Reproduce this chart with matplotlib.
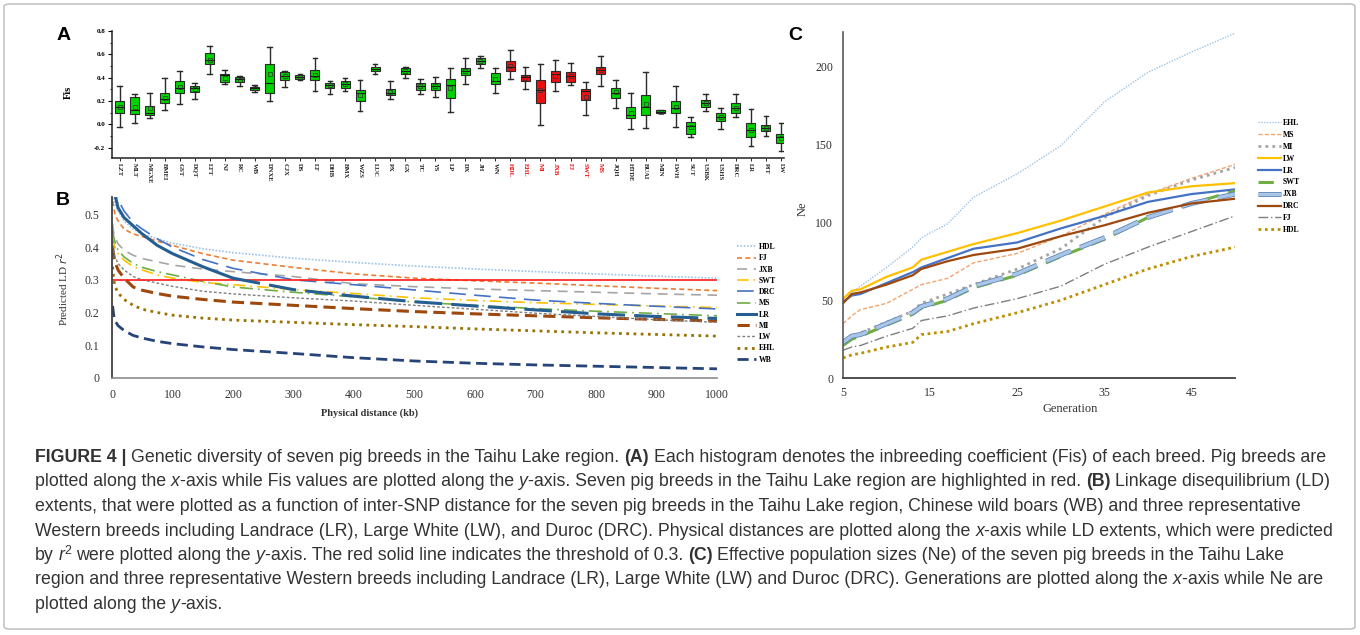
import matplotlib
matplotlib.use("Agg")
import matplotlib.pyplot as plt
import matplotlib.patheffects as pe
from matplotlib import font_manager
from matplotlib.patches import FancyBboxPatch
from matplotlib.ticker import MultipleLocator, FormatStrFormatter
import numpy as np

# ---- panel A: inbreeding coefficient (Fis) per breed ----
BREEDS = ["LZT", "MLT", "MGXE", "BMEI", "GST", "DQT", "LTT", "NJ", "RC", "WB",
          "DNXE", "CJX", "DS", "LT", "DHB", "BMX", "WZS", "LUC", "PX", "GX",
          "TC", "YS", "LP", "DX", "JH", "WN", "HDL", "EHL", "MI", "JXB",
          "FJ", "SWT", "MS", "JQH", "HTDE", "BUAI", "MIN", "LWH", "SUT", "USBK",
          "USHS", "DRC", "LR", "PIT", "LW"]
TAIHU = ["HDL", "EHL", "MI", "JXB", "FJ", "SWT", "MS"]
FIS_WHISLO = [-0.02, 0.011, 0.057, 0.118, 0.172, 0.218, 0.434, 0.348, 0.328, 0.276,
              0.198, 0.322, 0.379, 0.287, 0.258, 0.284, 0.112, 0.430, 0.215, 0.399,
              0.258, 0.235, 0.106, 0.341, 0.479, 0.270, 0.390, 0.301, -0.003, 0.284,
              0.336, 0.080, 0.330, 0.138, -0.040, -0.032, 0.092, -0.023, -0.112, 0.112,
              -0.037, 0.063, -0.186, -0.100, -0.232]
FIS_Q1 = [0.100, 0.089, 0.078, 0.178, 0.270, 0.279, 0.514, 0.365, 0.360, 0.293,
          0.270, 0.380, 0.388, 0.380, 0.307, 0.313, 0.200, 0.453, 0.250, 0.430,
          0.292, 0.292, 0.227, 0.421, 0.516, 0.344, 0.456, 0.373, 0.186, 0.364,
          0.358, 0.204, 0.427, 0.229, 0.054, 0.080, 0.097, 0.100, -0.080, 0.149,
          0.029, 0.100, -0.112, -0.060, -0.158]
FIS_MED = [0.144, 0.118, 0.100, 0.215, 0.310, 0.307, 0.555, 0.420, 0.385, 0.307,
           0.350, 0.417, 0.408, 0.417, 0.336, 0.347, 0.270, 0.476, 0.272, 0.459,
           0.330, 0.330, 0.336, 0.456, 0.539, 0.370, 0.493, 0.401, 0.292, 0.430,
           0.416, 0.281, 0.465, 0.264, 0.083, 0.152, 0.109, 0.143, -0.014, 0.181,
           0.060, 0.143, -0.052, -0.029, -0.109]
FIS_Q3 = [0.195, 0.230, 0.158, 0.270, 0.370, 0.328, 0.615, 0.434, 0.402, 0.319,
          0.517, 0.445, 0.422, 0.468, 0.356, 0.367, 0.292, 0.490, 0.298, 0.479,
          0.353, 0.356, 0.384, 0.479, 0.565, 0.436, 0.539, 0.421, 0.376, 0.456,
          0.447, 0.304, 0.493, 0.310, 0.152, 0.247, 0.118, 0.198, 0.023, 0.206,
          0.092, 0.181, 0.011, -0.003, -0.080]
FIS_WHISHI = [0.325, 0.256, 0.267, 0.394, 0.454, 0.356, 0.675, 0.468, 0.414, 0.336,
              0.661, 0.460, 0.428, 0.566, 0.373, 0.396, 0.378, 0.513, 0.373, 0.493,
              0.384, 0.407, 0.485, 0.571, 0.585, 0.479, 0.637, 0.487, 0.513, 0.548,
              0.528, 0.358, 0.582, 0.381, 0.270, 0.447, 0.126, 0.324, 0.063, 0.258,
              0.135, 0.261, 0.129, 0.072, 0.014]
FIS_MEAN = [0.145, 0.148, 0.135, 0.225, 0.320, 0.300, 0.555, 0.400, 0.380, 0.307,
            0.430, 0.415, 0.408, 0.425, 0.333, 0.345, 0.250, 0.474, 0.280, 0.455,
            0.325, 0.325, 0.310, 0.455, 0.540, 0.385, 0.500, 0.400, 0.290, 0.415,
            0.410, 0.235, 0.465, 0.275, 0.100, 0.170, 0.108, 0.145, -0.020, 0.180,
            0.060, 0.140, -0.050, -0.030, -0.115]

# ---- panel B: LD decay ----
DIST_KB = [1, 3, 5, 10, 20, 35, 50, 75, 100, 150, 200, 300, 400, 500, 600, 700, 800, 900, 1000]
LD_NAMES = ["HDL", "FJ", "JXB", "SWT", "DRC", "MS", "LR", "MI", "LW", "EHL", "WB"]
LD_HDL = [0.56, 0.55, 0.53, 0.51, 0.48, 0.455, 0.44, 0.425, 0.412, 0.395, 0.383, 0.366, 0.353, 0.342, 0.333, 0.325, 0.318, 0.311, 0.305]
LD_FJ = [0.54, 0.52, 0.50, 0.48, 0.455, 0.44, 0.432, 0.418, 0.405, 0.38, 0.36, 0.338, 0.318, 0.305, 0.297, 0.29, 0.282, 0.274, 0.267]
LD_JXB = [0.47, 0.44, 0.43, 0.41, 0.39, 0.375, 0.365, 0.355, 0.345, 0.333, 0.325, 0.31, 0.288, 0.279, 0.272, 0.267, 0.262, 0.257, 0.253]
LD_SWT = [0.43, 0.41, 0.40, 0.38, 0.36, 0.34, 0.33, 0.315, 0.305, 0.292, 0.285, 0.27, 0.258, 0.245, 0.237, 0.23, 0.225, 0.22, 0.215]
LD_DRC = [0.60, 0.58, 0.565, 0.545, 0.51, 0.475, 0.455, 0.425, 0.40, 0.362, 0.335, 0.30, 0.285, 0.269, 0.253, 0.238, 0.228, 0.219, 0.211]
LD_MS = [0.45, 0.43, 0.415, 0.39, 0.37, 0.35, 0.338, 0.325, 0.315, 0.295, 0.278, 0.262, 0.248, 0.232, 0.222, 0.212, 0.204, 0.197, 0.19]
LD_LR = [0.62, 0.59, 0.56, 0.52, 0.49, 0.465, 0.44, 0.405, 0.38, 0.34, 0.305, 0.27, 0.25, 0.233, 0.22, 0.208, 0.196, 0.188, 0.182]
LD_MI = [0.40, 0.37, 0.355, 0.33, 0.305, 0.278, 0.268, 0.258, 0.25, 0.24, 0.232, 0.222, 0.212, 0.203, 0.196, 0.19, 0.184, 0.179, 0.174]
LD_LW = [0.42, 0.39, 0.37, 0.35, 0.33, 0.31, 0.30, 0.29, 0.28, 0.265, 0.257, 0.245, 0.235, 0.222, 0.21, 0.198, 0.188, 0.178, 0.17]
LD_EHL = [0.34, 0.30, 0.28, 0.26, 0.24, 0.222, 0.21, 0.20, 0.192, 0.183, 0.177, 0.17, 0.163, 0.157, 0.15, 0.144, 0.138, 0.133, 0.128]
LD_WB = [0.22, 0.19, 0.175, 0.16, 0.145, 0.13, 0.122, 0.112, 0.105, 0.095, 0.087, 0.075, 0.062, 0.052, 0.045, 0.04, 0.036, 0.032, 0.028]
LD_THRESHOLD = 0.3

# ---- panel C: effective population size ----
GENERATION = [5, 6, 7, 10, 13, 14, 17, 20, 25, 30, 35, 40, 45, 50]
NE_NAMES = ["EHL", "MS", "MI", "LW", "LR", "SWT", "JXB", "DRC", "FJ", "HDL"]
NE_EHL = [51, 55, 59, 71, 84, 90, 99, 116, 131, 149, 177, 196, 209, 221]
NE_MS = [35, 40, 44, 48, 57, 60, 64, 74, 80, 91, 105, 118, 128, 137]
NE_MI = [23, 27, 29, 36, 43, 48, 54, 60, 70, 83, 103, 117, 127, 135]
NE_LW = [51, 56, 57, 65, 71, 76, 81, 86, 93, 101, 110, 119, 123, 125]
NE_LR = [49, 53, 54, 61, 68, 71, 77, 83, 87, 96, 104, 113, 118, 121]
NE_SWT = [21, 25, 27, 34, 41, 45, 50, 58, 66, 78, 89, 103, 112, 120]
NE_JXB = [23, 27, 28, 35, 42, 46, 51, 59, 67, 79, 90, 103, 112, 118]
NE_DRC = [48, 54, 55, 60, 66, 70, 75, 79, 83, 91, 98, 106, 112, 115]
NE_FJ = [18, 20, 21, 27, 32, 37, 40, 45, 51, 59, 73, 84, 94, 104]
NE_HDL = [13, 15, 16, 20, 23, 28, 30, 35, 42, 50, 60, 70, 78, 84]

CAPTION = [
    [("FIGURE 4 | ", "b"), ("Genetic diversity of seven pig breeds in the Taihu Lake region. ", ""), ("(A)", "b"),
     (" Each histogram denotes the inbreeding coefficient (Fis) of each breed. Pig breeds are", "")],
    [("plotted along the ", ""), ("x", "i"), ("-axis while Fis values are plotted along the ", ""), ("y", "i"),
     ("-axis. Seven pig breeds in the Taihu Lake region are highlighted in red. ", ""), ("(B)", "b"),
     (" Linkage disequilibrium (LD)", "")],
    [("extents, that were plotted as a function of inter-SNP distance for the seven pig breeds in the Taihu Lake region, Chinese wild boars (WB) and three representative", "")],
    [("Western breeds including Landrace (LR), Large White (LW), and Duroc (DRC). Physical distances are plotted along the ", ""),
     ("x", "i"), ("-axis while LD extents, which were predicted", "")],
    [("by ", ""), ("r", "i"), ("2", "sup"), (" were plotted along the ", ""), ("y", "i"),
     ("-axis. The red solid line indicates the threshold of 0.3. ", ""), ("(C)", "b"),
     (" Effective population sizes (Ne) of the seven pig breeds in the Taihu Lake", "")],
    [("region and three representative Western breeds including Landrace (LR), Large White (LW) and Duroc (DRC). Generations are plotted along the ", ""),
     ("x", "i"), ("-axis while Ne are", "")],
    [("plotted along the ", ""), ("y", "i"), ("-axis.", "")],
]

W, H = 1360, 635
SERIF = ["Liberation Serif", "DejaVu Serif"]
plt.rcParams["font.family"] = SERIF


def fx(px):
    return px / W


def fy(py):
    return 1 - py / H


fig = plt.figure(figsize=(W / 100, H / 100), dpi=100)
fig.patch.set_facecolor("white")

# ================= panel A =================
ax_a = fig.add_axes([fx(112), fy(158), fx(784) - fx(112), (158 - 31) / H])
positions = np.arange(1, len(BREEDS) + 1)
stats = []
for i, name in enumerate(BREEDS):
    stats.append(dict(label=name, whislo=FIS_WHISLO[i], q1=FIS_Q1[i], med=FIS_MED[i],
                      q3=FIS_Q3[i], whishi=FIS_WHISHI[i], mean=FIS_MEAN[i], fliers=[]))
bp = ax_a.bxp(stats, positions=positions, widths=0.6, patch_artist=True, showmeans=True,
              capwidths=0.32,
              boxprops=dict(linewidth=0.8, edgecolor="#2a2a2a"),
              medianprops=dict(color="#1a1a1a", linewidth=0.8),
              whiskerprops=dict(color="#2a2a2a", linewidth=1.0),
              capprops=dict(color="#2a2a2a", linewidth=1.0),
              meanprops=dict(marker="s", markersize=2.2, markerfacecolor="none",
                             markeredgecolor="#333333", markeredgewidth=0.5))
for patch, name in zip(bp["boxes"], BREEDS):
    patch.set_facecolor("#ee1010" if name in TAIHU else "#00d400")

ax_a.set_xlim(0.5, 45.2)
ax_a.set_ylim(-0.29, 0.8)
ax_a.yaxis.set_major_locator(MultipleLocator(0.2))
ax_a.yaxis.set_minor_locator(MultipleLocator(0.1))
ax_a.yaxis.set_major_formatter(FormatStrFormatter("%.1f"))
ax_a.set_xticks(positions)
ax_a.set_xticklabels(BREEDS, rotation=-90, fontsize=4.8, fontweight="bold")
for lbl, name in zip(ax_a.get_xticklabels(), BREEDS):
    lbl.set_color("#ee1010" if name in TAIHU else "#222222")
for lbl in ax_a.get_yticklabels():
    lbl.set_fontweight("bold")
ax_a.tick_params(axis="y", labelsize=5, length=3, width=0.8, pad=2)
ax_a.tick_params(axis="y", which="minor", length=1.8, width=0.6)
ax_a.tick_params(axis="x", length=2, width=0.6, pad=1.5)
for side in ["top", "right"]:
    ax_a.spines[side].set_visible(False)
for side in ["left", "bottom"]:
    ax_a.spines[side].set_linewidth(1.1)
    ax_a.spines[side].set_color("#222222")
ax_a.set_ylabel("Fis", fontsize=7.5, fontweight="bold")
ax_a.yaxis.set_label_coords(-0.058, 0.52)

# ================= panel B =================
ax_b = fig.add_axes([fx(112), fy(378), fx(717) - fx(112), (378 - 197) / H])
ld_series = {"HDL": LD_HDL, "FJ": LD_FJ, "JXB": LD_JXB, "SWT": LD_SWT, "DRC": LD_DRC,
             "MS": LD_MS, "LR": LD_LR, "MI": LD_MI, "LW": LD_LW, "EHL": LD_EHL, "WB": LD_WB}
ld_styles = {
    "HDL": dict(color="#9dc3e6", ls=(0, (1, 1)), lw=1.2),
    "FJ": dict(color="#ed7d31", ls=(0, (3, 2)), lw=1.2),
    "JXB": dict(color="#a5a5a5", ls=(0, (6, 4)), lw=1.2),
    "SWT": dict(color="#ffc000", ls=(0, (7, 3, 1, 3)), lw=1.2),
    "DRC": dict(color="#4472c4", ls=(0, (10, 5)), lw=1.2),
    "MS": dict(color="#70ad47", ls=(0, (8, 3, 1, 3)), lw=1.2),
    "LR": dict(color="#255e91", ls="-", lw=2.2),
    "MI": dict(color="#9e480e", ls=(0, (4, 2)), lw=2.2),
    "LW": dict(color="#7f7f7f", ls=(0, (2, 1.5)), lw=1.0),
    "EHL": dict(color="#997300", ls=(0, (1, 1.6)), lw=2.0),
    "WB": dict(color="#264478", ls=(0, (4, 2)), lw=2.0),
}
dist = np.array(DIST_KB)
for name in LD_NAMES:
    vals = np.array(ld_series[name])
    if name == "LR":
        st = ld_styles[name]
        near = dist <= 200
        far = dist >= 200
        ax_b.plot(dist[near], vals[near], color=st["color"], lw=st["lw"], ls="-", label=name, zorder=3)
        ax_b.plot(dist[far], vals[far], color=st["color"], lw=st["lw"], ls=(0, (9, 3)), zorder=3)
    else:
        ax_b.plot(dist, vals, label=name, zorder=2, **ld_styles[name])
ax_b.axhline(LD_THRESHOLD, color="#ff1a1a", lw=1.2, zorder=2.5)

ax_b.set_xlim(0, 1000)
ax_b.set_ylim(0, 0.553)
ax_b.set_xticks(np.arange(0, 1001, 100))
ax_b.set_yticks([0, 0.1, 0.2, 0.3, 0.4, 0.5])
ax_b.set_yticklabels(["0", "0.1", "0.2", "0.3", "0.4", "0.5"])
ax_b.tick_params(axis="both", length=0, labelsize=8.5, colors="#333333")
ax_b.tick_params(axis="y", pad=9)
ax_b.tick_params(axis="x", pad=8)
for side in ["top", "right"]:
    ax_b.spines[side].set_visible(False)
ax_b.spines["left"].set_color("#404040")
ax_b.spines["left"].set_linewidth(1.3)
ax_b.spines["bottom"].set_color("#8c8c8c")
ax_b.spines["bottom"].set_linewidth(1.2)
ax_b.set_xlabel("Physical distance (kb)", fontsize=7.5, fontweight="bold", color="#333333")
ax_b.xaxis.set_label_coords(0.426, -0.17)
ax_b.set_ylabel("Predicted LD $\\it{r}^2$", fontsize=8, color="#333333")
ax_b.yaxis.set_label_coords(-0.068, 0.49)
ax_b.legend(loc="upper left", bbox_to_anchor=(fx(737), fy(243)), bbox_transform=fig.transFigure,
            frameon=False, handlelength=2.4, handletextpad=0.4,
            labelspacing=0.42, borderpad=0, borderaxespad=0,
            prop=dict(family=SERIF, weight="bold", size=5.6))

# ================= panel C =================
ax_c = fig.add_axes([fx(843), fy(378.3), fx(1235) - fx(843), (378.3 - 31.7) / H])
ne_series = {"EHL": NE_EHL, "MS": NE_MS, "MI": NE_MI, "LW": NE_LW, "LR": NE_LR,
             "SWT": NE_SWT, "JXB": NE_JXB, "DRC": NE_DRC, "FJ": NE_FJ, "HDL": NE_HDL}
ne_styles = {
    "EHL": dict(color="#9dc3e6", ls=(0, (1, 1)), lw=1.0),
    "MS": dict(color="#f4a46f", ls=(0, (3, 1.5)), lw=1.0),
    "MI": dict(color="#a5a5a5", ls=(0, (1, 1.5)), lw=2.0),
    "LW": dict(color="#ffc000", ls="-", lw=1.6),
    "LR": dict(color="#4472c4", ls="-", lw=1.6),
    "SWT": dict(color="#70ad47", ls=(0, (5, 3)), lw=2.2),
    "JXB": dict(color="#a9c6e8", ls=(0, (8, 3)), lw=2.4,
                path_effects=[pe.Stroke(linewidth=3.6, foreground="#5f86b4"), pe.Normal()]),
    "DRC": dict(color="#9e480e", ls="-", lw=1.6),
    "FJ": dict(color="#7f7f7f", ls=(0, (7, 2, 1, 2)), lw=1.0),
    "HDL": dict(color="#bf8f00", ls=(0, (1, 1.3)), lw=2.0),
}
for name in NE_NAMES:
    ax_c.plot(GENERATION, ne_series[name], label=name, **ne_styles[name])

ax_c.set_xlim(5, 50)
ax_c.set_ylim(0, 222)
ax_c.set_xticks([5, 15, 25, 35, 45])
ax_c.set_yticks([0, 50, 100, 150, 200])
ax_c.tick_params(axis="both", length=0, labelsize=8.5, colors="#333333")
ax_c.tick_params(axis="y", pad=7)
ax_c.tick_params(axis="x", pad=6)
for side in ["top", "right"]:
    ax_c.spines[side].set_visible(False)
ax_c.spines["left"].set_color("#595959")
ax_c.spines["left"].set_linewidth(1.2)
ax_c.spines["bottom"].set_color("#404040")
ax_c.spines["bottom"].set_linewidth(1.3)
ax_c.set_xlabel("Generation", fontsize=9, color="#333333")
ax_c.xaxis.set_label_coords(0.58, -0.072)
ax_c.set_ylabel("Ne", fontsize=9, color="#333333")
ax_c.yaxis.set_label_coords(-0.088, 0.49)
ax_c.legend(loc="upper left", bbox_to_anchor=(fx(1258), fy(119)), bbox_transform=fig.transFigure,
            frameon=False, handlelength=2.9, handletextpad=0.3,
            labelspacing=0.5, borderpad=0, borderaxespad=0,
            prop=dict(family=SERIF, weight="bold", size=5.6))

# panel letters
for letter, px, py in [("A", 64, 36), ("B", 63, 201), ("C", 795, 35)]:
    fig.text(fx(px), fy(py), letter, fontsize=14, fontweight="bold",
             family=["Liberation Sans", "DejaVu Sans"], ha="center", va="center")

# outer frame
frame = FancyBboxPatch((fx(4), fy(629)), fx(1355) - fx(4), fy(4) - fy(629),
                       boxstyle="round,pad=0,rounding_size=0.004", transform=fig.transFigure,
                       facecolor="none", edgecolor="#b8b8b8", lw=1.0)
fig.patches.append(frame)

# ================= caption =================
names = {f.name for f in font_manager.fontManager.ttflist}
cap_family = ["Liberation Sans Narrow"] if "Liberation Sans Narrow" in names else ["Liberation Sans"]
cap_family = cap_family + ["DejaVu Sans"]
renderer = fig.canvas.get_renderer()


def text_width(s, size, weight="normal", style="normal"):
    t = fig.text(0, 0, s, fontsize=size, family=cap_family, fontweight=weight, fontstyle=style)
    w = t.get_window_extent(renderer).width
    t.remove()
    return w


def run_kwargs(kind):
    if kind == "b":
        return dict(weight="bold", style="normal")
    if kind == "i":
        return dict(weight="normal", style="italic")
    return dict(weight="normal", style="normal")


def line_width(runs, size):
    sp = text_width("a a", size) - text_width("aa", size)
    total = 0.0
    for txt, kind in runs:
        sz = size * 0.7 if kind == "sup" else size
        kw = run_kwargs(kind)
        core = txt.strip()
        lead = len(txt) - len(txt.lstrip())
        trail = len(txt) - len(txt.rstrip())
        total += (lead + trail) * sp + text_width(core, sz, kw["weight"], kw["style"])
    return total


base = 11.0
cap_size = base * 1288.0 / line_width(CAPTION[0], base)
space_w = text_width("a a", cap_size) - text_width("aa", cap_size)
for li, runs in enumerate(CAPTION):
    x = 35.0
    y = 457.5 + 24.5 * li
    for txt, kind in runs:
        kw = run_kwargs(kind)
        sz = cap_size * 0.7 if kind == "sup" else cap_size
        core = txt.strip()
        lead = len(txt) - len(txt.lstrip())
        trail = len(txt) - len(txt.rstrip())
        x += lead * space_w
        yy = y - 5 if kind == "sup" else y
        fig.text(fx(x), fy(yy), core, fontsize=sz, family=cap_family, fontweight=kw["weight"],
                 fontstyle=kw["style"], color="#333333", ha="left", va="center")
        x += text_width(core, sz, kw["weight"], kw["style"]) + trail * space_w

fig.savefig("out.png", dpi=100, facecolor="white")
